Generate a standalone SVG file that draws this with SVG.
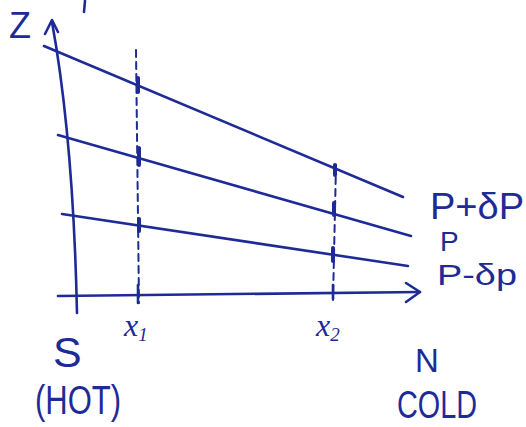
<svg xmlns="http://www.w3.org/2000/svg" width="526" height="427" viewBox="0 0 526 427">
<style>
.ink{fill:none;stroke:#1e2b96;stroke-width:2.6;stroke-linecap:round;stroke-linejoin:round}
.dash{fill:none;stroke:#1e2b96;stroke-width:2;stroke-dasharray:7 5;stroke-linecap:round}
.mark{fill:none;stroke:#1e2b96;stroke-width:4;stroke-linecap:round}
.lbl{fill:#1e2b96;font-family:"Liberation Sans","DejaVu Sans",sans-serif}
.math{fill:#1e2b96;font-family:"Liberation Serif","DejaVu Serif",serif;font-style:italic}
</style>
<rect width="526" height="427" fill="#ffffff"/>
<path class="ink" d="M85,1 L84,12"/>
<g id="connectors">
  <g id="z-axis">
    <path class="ink" d="M77,313 C75,220 68,110 52,22"/>
    <polyline class="ink" points="45,34 52,20 58,32"/>
  </g>
  <g id="x-axis">
    <path class="ink" d="M58,296 L420,292"/>
    <polyline class="ink" points="406,283 420,292 406,302"/>
    <path class="ink" d="M138,285 L138,303"/>
    <path class="ink" d="M333,285 L333,299"/>
  </g>
  <g id="isobar-top">
    <path class="ink" d="M44,46 L403,197"/>
  </g>
  <g id="isobar-mid">
    <path class="ink" d="M58,135 L411,236"/>
  </g>
  <g id="isobar-bot">
    <path class="ink" d="M62,214 L408,266"/>
  </g>
  <g id="dash-x1">
    <path class="dash" d="M136,50 L139,303"/>
    <path class="mark" d="M138,78 L138,92"/>
    <path class="mark" d="M139,148 L139,165"/>
    <path class="mark" d="M139,219 L139,231"/>
  </g>
  <g id="dash-x2">
    <path class="dash" d="M336,165 L333,300"/>
    <path class="mark" d="M335,165 L335,175"/>
    <path class="mark" d="M334,203 L334,215"/>
    <path class="mark" d="M333,248 L333,261"/>
  </g>
</g>
<g id="label-z"><text class="lbl" x="9" y="38" font-size="36">Z</text></g>
<g id="label-ppdp"><text class="lbl" x="430" y="219" font-size="36" textLength="94" lengthAdjust="spacingAndGlyphs">P+δP</text></g>
<g id="label-p"><text class="lbl" x="440" y="251" font-size="28">P</text></g>
<g id="label-pmdp"><text class="lbl" x="437" y="285" font-size="30" textLength="80" lengthAdjust="spacingAndGlyphs">P-δp</text></g>
<g id="label-x1"><text class="math" x="124" y="336" font-size="32">x<tspan dy="5" font-size="19">1</tspan></text></g>
<g id="label-x2"><text class="math" x="316" y="336" font-size="32">x<tspan dy="5" font-size="19">2</tspan></text></g>
<g id="label-s"><text class="lbl" x="53" y="367" font-size="43">S</text></g>
<g id="label-hot"><text class="lbl" x="35" y="414" font-size="40" textLength="86" lengthAdjust="spacingAndGlyphs">(HOT)</text></g>
<g id="label-n"><text class="lbl" x="415" y="372" font-size="33">N</text></g>
<g id="label-cold"><text class="lbl" x="397" y="418" font-size="38" textLength="80" lengthAdjust="spacingAndGlyphs">COLD</text></g>
</svg>
